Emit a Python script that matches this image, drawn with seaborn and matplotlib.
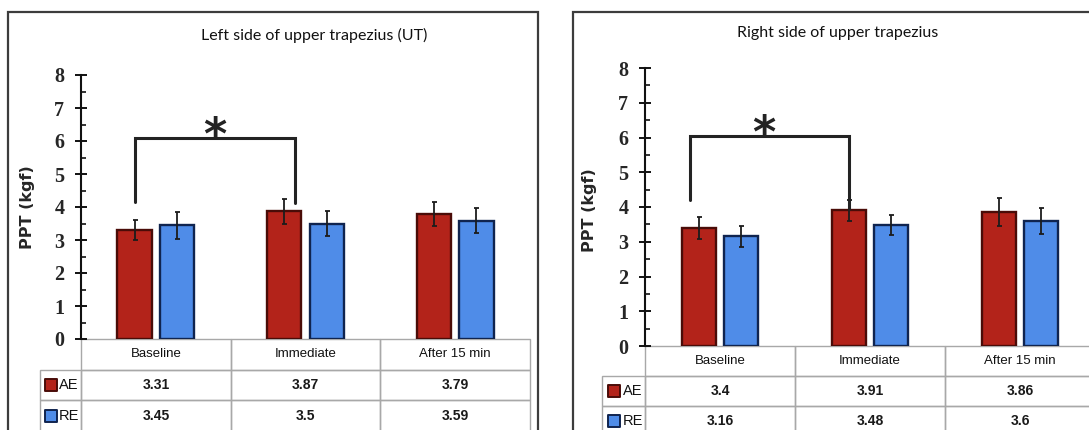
import matplotlib
matplotlib.use("Agg")
import matplotlib.pyplot as plt
import seaborn as sns
import pandas as pd
from matplotlib import font_manager
from matplotlib.patches import Rectangle
from matplotlib.table import Table

# data
TIMES = ["Baseline", "Immediate", "After 15 min"]
GROUPS = ["AE", "RE"]

LEFT_TITLE = "Left side of upper trapezius (UT)"
LEFT_AE = [3.31, 3.87, 3.79]
LEFT_RE = [3.45, 3.5, 3.59]
LEFT_AE_SD = [0.30, 0.37, 0.37]
LEFT_RE_SD = [0.41, 0.38, 0.38]
LEFT_AE_TXT = ["3.31", "3.87", "3.79"]
LEFT_RE_TXT = ["3.45", "3.5", "3.59"]

RIGHT_TITLE = "Right side of upper trapezius"
RIGHT_AE = [3.4, 3.91, 3.86]
RIGHT_RE = [3.16, 3.48, 3.6]
RIGHT_AE_SD = [0.32, 0.30, 0.40]
RIGHT_RE_SD = [0.30, 0.29, 0.38]
RIGHT_AE_TXT = ["3.4", "3.91", "3.86"]
RIGHT_RE_TXT = ["3.16", "3.48", "3.6"]

YLABEL = "PPT (kgf)"

COLORS = {"AE": "#b3231a", "RE": "#4f8ce8"}
EDGES = {"AE": "#4a0c08", "RE": "#10244f"}
GRID_GRAY = "#a8a8a8"

W, H = 1089, 430

sns.set_style("white")
names = {f.name for f in font_manager.fontManager.ttflist}
TABLE_FONT = "Liberation Sans Narrow" if "Liberation Sans Narrow" in names else "Liberation Sans"
plt.rcParams["font.family"] = ["DejaVu Sans"]

fig = plt.figure(figsize=(W / 100, H / 100), dpi=100)
fig.patch.set_facecolor("white")


def fx(px):
    return px / W


def fy(py):
    return 1 - py / H


def draw_panel(box, axes_px, table_px, title, title_px, ae, re, ae_sd, re_sd,
               ae_txt, re_txt, bracket, star_dx):
    # outer frame
    fig.patches.append(Rectangle((fx(box[0]), fy(box[3])), fx(box[2] - box[0]), fy(box[1]) - fy(box[3]),
                                 transform=fig.transFigure, fill=False, edgecolor="#3c3c3c", lw=1.6))
    fig.text(fx(title_px[0]), fy(title_px[1]), title, ha="center", va="center",
             fontsize=11.5, family=["Lato", "DejaVu Sans"], color="#111111")

    x0, ytop, x1, ybot = axes_px
    ax = fig.add_axes([fx(x0), fy(ybot), fx(x1 - x0), fy(ytop) - fy(ybot)])
    ax.set_facecolor("none")

    df = pd.DataFrame({
        "time": TIMES * 2,
        "group": ["AE"] * 3 + ["RE"] * 3,
        "ppt": ae + re,
    })
    sns.barplot(data=df, x="time", y="ppt", hue="group", order=TIMES, hue_order=GROUPS,
                palette=COLORS, width=0.57, gap=0.2, errorbar=None, legend=False,
                saturation=1, linewidth=1.7, ax=ax)

    centers = {}
    for grp, cont, sds in zip(GROUPS, ax.containers, [ae_sd, re_sd]):
        centers[grp] = []
        for bar, sd in zip(cont, sds):
            bar.set_edgecolor(EDGES[grp])
            cx = bar.get_x() + bar.get_width() / 2
            centers[grp].append(cx)
            ax.errorbar(cx, bar.get_height(), yerr=sd, fmt="none", ecolor="#1c1c1c",
                        elinewidth=1.3, capsize=1.8, capthick=1.3, zorder=5)

    # significance bracket between AE baseline and AE immediate
    (i0, d0, yb0), (i1, d1, yb1), ytopb = bracket
    xa = centers["AE"][i0] + d0
    xb = centers["AE"][i1] + d1
    ax.plot([xa, xa, xb, xb], [yb0, ytopb, ytopb, yb1], color="#232323", lw=2.2,
            solid_joinstyle="miter", zorder=6, clip_on=False)
    ax.text((xa + xb) / 2 + star_dx, ytopb - 0.33, "*", ha="center", va="baseline",
            fontsize=32, fontweight="bold", color="#232323", family="DejaVu Sans")

    ax.set_xlim(-0.5, 2.5)
    ax.set_ylim(0, 8)
    ax.set_xticks([])
    ax.set_xlabel("")
    ax.set_yticks(range(0, 9))
    ax.set_yticks([v + 0.5 for v in range(8)], minor=True)
    ax.tick_params(axis="y", which="major", direction="inout", length=8, width=1.4,
                   color="#111111", pad=8, left=True)
    ax.tick_params(axis="y", which="minor", direction="in", length=3.5, width=1.2,
                   color="#111111", left=True)
    for lab in ax.get_yticklabels():
        lab.set_family("Liberation Serif")
        lab.set_weight("bold")
        lab.set_fontsize(14.5)
    for side in ["top", "right", "bottom"]:
        ax.spines[side].set_visible(False)
    ax.spines["left"].set_color("#111111")
    ax.spines["left"].set_linewidth(1.5)
    ax.set_ylabel(YLABEL, fontsize=11.5, fontweight="bold", family="DejaVu Sans")

    # data table under the axis; bbox covers the data columns, labels hang to the left
    tx0, ty0, ty1 = table_px
    aw, ah = x1 - x0, ybot - ytop
    bh = (ty1 - ty0) / ah
    lab_w = (x0 - tx0) / aw
    tbl = Table(ax, bbox=[0, -bh, 1, bh])
    col_w = 1 / 3
    rh = bh / 3
    for j, t in enumerate(TIMES):
        c = tbl.add_cell(0, j, col_w, rh, text=t, loc="center", edgecolor=GRID_GRAY, facecolor="none")
        c.get_text().set(family=TABLE_FONT, fontsize=9.5, color="#111111")
    for r, (grp, vals) in enumerate(zip(GROUPS, [ae_txt, re_txt]), start=1):
        c = tbl.add_cell(r, -1, lab_w, rh, text=grp, loc="right", edgecolor=GRID_GRAY, facecolor="none")
        c.PAD = 0.05
        c.get_text().set(family=TABLE_FONT, fontsize=10.5, color="#111111")
        for j, v in enumerate(vals):
            c = tbl.add_cell(r, j, col_w, rh, text=v, loc="center", edgecolor=GRID_GRAY, facecolor="none")
            c.get_text().set(family=TABLE_FONT, fontsize=10, fontweight="bold", color="#1a1a1a")
        # legend swatch in the row label cell
        ax.scatter([-lab_w * 0.72], [-bh + bh * (3 - r - 0.5) / 3], s=72, marker="s",
                   color=COLORS[grp], edgecolor=EDGES[grp], linewidth=1.4,
                   transform=ax.transAxes, clip_on=False, zorder=7)
    tbl.auto_set_font_size(False)
    ax.add_table(tbl)
    return ax


ax1 = draw_panel(box=(8, 12, 538, 440), axes_px=(81, 75, 530, 339), table_px=(40, 339, 431),
                 title=LEFT_TITLE, title_px=(314, 35),
                 ae=LEFT_AE, re=LEFT_RE, ae_sd=LEFT_AE_SD, re_sd=LEFT_RE_SD,
                 ae_txt=LEFT_AE_TXT, re_txt=LEFT_RE_TXT,
                 bracket=((0, 0.0, 4.15), (1, 0.075, 4.12), 6.08), star_dx=0.0)
ax1.yaxis.set_label_coords(-0.102, 0.5)

ax2 = draw_panel(box=(573, 12, 1100, 440), axes_px=(645, 68, 1095, 346), table_px=(602, 346, 436),
                 title=RIGHT_TITLE, title_px=(838, 33),
                 ae=RIGHT_AE, re=RIGHT_RE, ae_sd=RIGHT_AE_SD, re_sd=RIGHT_RE_SD,
                 ae_txt=RIGHT_AE_TXT, re_txt=RIGHT_RE_TXT,
                 bracket=((0, -0.055, 4.2), (1, 0.0, 3.95), 6.05), star_dx=-0.04)
ax2.yaxis.set_label_coords(-0.107, 0.49)

fig.savefig("out.png", dpi=100, facecolor="white")
